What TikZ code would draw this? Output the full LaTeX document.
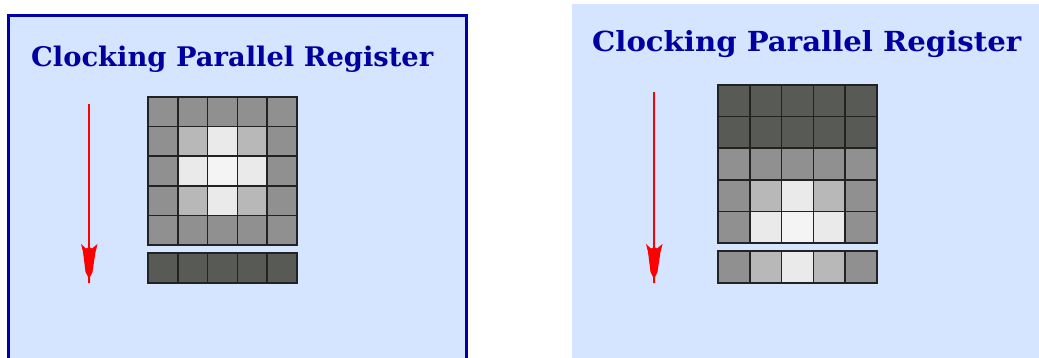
\documentclass[tikz,border=0pt]{standalone}
\usepackage{fontspec}
\usepackage{graphicx}
\newfontfamily\titlefont{DejaVu Serif}
\definecolor{bgblue}{HTML}{D5E5FF}
\definecolor{frameblue}{HTML}{0000AA}
\definecolor{titleblue}{HTML}{0000A0}
\definecolor{cD}{HTML}{585A55}
\definecolor{cM}{HTML}{909090}
\definecolor{cL}{HTML}{B8B8B8}
\definecolor{cW}{HTML}{EAEAEA}
\definecolor{cC}{HTML}{F4F4F4}
\definecolor{cellline}{HTML}{222222}
\tikzset{
  cellbox/.style={draw=cellline, line width=1.6pt},
  titletext/.style={anchor=base west, inner sep=0pt, text=titleblue, font=\titlefont\bfseries},
  shaftline/.style={draw=red, line width=2.2pt},
  headfill/.style={fill=red, draw=none}
}
% \regcell{x}{y}{w}{h}{colour}
\newcommand{\regcell}[5]{\fill[#5] (#1,#2) rectangle ++(#3,#4); \draw[cellbox] (#1,#2) rectangle ++(#3,#4);}
\begin{document}
\begin{tikzpicture}[x=1pt,y=-1pt]
\useasboundingbox (0,0) rectangle (1039,358);
\fill[white] (0,0) rectangle (1039,358);
% ---------- left panel ----------
\fill[bgblue] (7,14) rectangle (468,358);
\draw[frameblue, line width=3pt] (8.5,360) -- (8.5,15.5) -- (466.5,15.5) -- (466.5,360);
\node[titletext] (titleL) at (31,67) {\resizebox{402pt}{20.5pt}{Clocking Parallel Register}};
% left grid
\foreach \row/\cols in {0/{cM,cM,cM,cM,cM},1/{cM,cL,cW,cL,cM},2/{cM,cW,cC,cW,cM},3/{cM,cL,cW,cL,cM},4/{cM,cM,cM,cM,cM}}{
  \foreach \c [count=\i from 0] in \cols {
    \regcell{148+29.8*\i}{97+29.6*\row}{29.8}{29.6}{\c}
  }
}
\foreach \c [count=\i from 0] in {cD,cD,cD,cD,cD} {
  \regcell{148+29.8*\i}{253}{29.8}{30}{\c}
}
% left arrow
\coordinate (aLs) at (89,104);
\coordinate (aLh) at (89,250);
\draw[shaftline] (aLs) -- (aLh);
\fill[headfill] ([shift={(-8,-6)}]aLh) -- ([shift={(-3,-1.5)}]aLh) -- ([shift={(0,-3)}]aLh) -- ([shift={(3,-1.5)}]aLh) -- ([shift={(8.5,-6)}]aLh) -- ([shift={(6.5,2)}]aLh) -- ([shift={(3.5,22)}]aLh) -- ([shift={(1,27)}]aLh) -- ([shift={(1,33)}]aLh) -- ([shift={(-1,33)}]aLh) -- ([shift={(-1,27)}]aLh) -- ([shift={(-3.5,22)}]aLh) -- ([shift={(-6,2)}]aLh) -- cycle;
% ---------- right panel ----------
\fill[bgblue] (572,4) rectangle (1039,358);
\node[titletext] (titleR) at (592,52) {\resizebox{429pt}{21pt}{Clocking Parallel Register}};
\foreach \row/\cols in {0/{cD,cD,cD,cD,cD},1/{cD,cD,cD,cD,cD},2/{cM,cM,cM,cM,cM},3/{cM,cL,cW,cL,cM},4/{cM,cW,cC,cW,cM}}{
  \foreach \c [count=\i from 0] in \cols {
    \regcell{718+31.8*\i}{85+31.6*\row}{31.8}{31.6}{\c}
  }
}
\foreach \c [count=\i from 0] in {cM,cL,cW,cL,cM} {
  \regcell{718+31.8*\i}{251}{31.8}{32}{\c}
}
% right arrow
\coordinate (aRs) at (654,92);
\coordinate (aRh) at (654,250);
\draw[shaftline] (aRs) -- (aRh);
\fill[headfill] ([shift={(-8,-6)}]aRh) -- ([shift={(-3,-1.5)}]aRh) -- ([shift={(0,-3)}]aRh) -- ([shift={(3,-1.5)}]aRh) -- ([shift={(8.5,-6)}]aRh) -- ([shift={(6.5,2)}]aRh) -- ([shift={(3.5,22)}]aRh) -- ([shift={(1,27)}]aRh) -- ([shift={(1,33)}]aRh) -- ([shift={(-1,33)}]aRh) -- ([shift={(-1,27)}]aRh) -- ([shift={(-3.5,22)}]aRh) -- ([shift={(-6,2)}]aRh) -- cycle;
\end{tikzpicture}
\end{document}
